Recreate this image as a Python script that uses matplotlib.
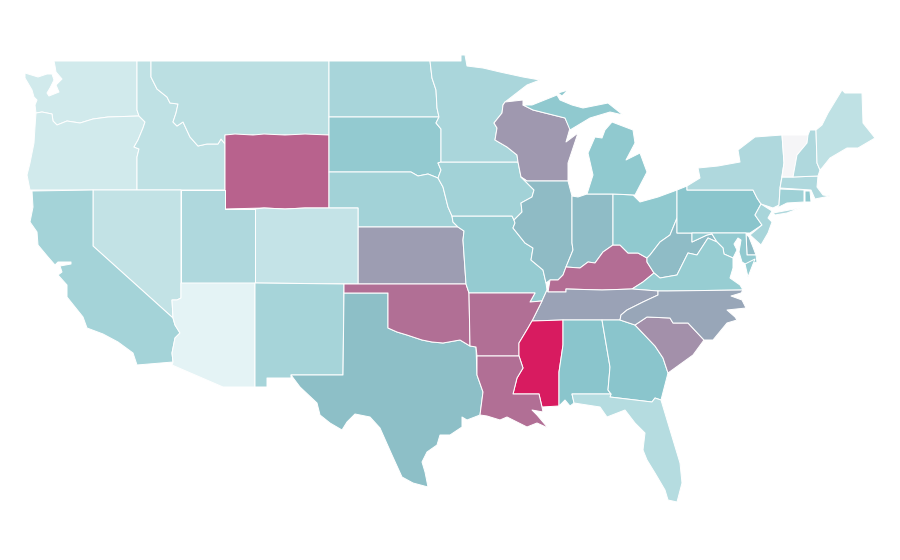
import matplotlib
matplotlib.use("Agg")
import matplotlib.pyplot as plt
from matplotlib.colors import LinearSegmentedColormap, Normalize

# state values (0-100)
states = ["WA", "OR", "ID", "MT", "WY", "ND", "SD", "NE", "KS", "CO", "UT", "NV", "CA", "AZ", "NM",
          "TX", "OK", "MO", "IA", "MN", "WI", "IL", "IN", "KY", "OH", "MI", "MIU", "ISLE", "WV", "PA", "NY",
          "LI", "NJ", "CT", "RI", "MA", "VT", "NH", "ME", "DE", "MD", "VA", "VAE", "TN", "AR", "MS",
          "LA", "AL", "GA", "SC", "NC", "FL"]
values = [17, 17, 25, 27, 79, 36, 46, 39, 62, 23, 33, 24, 38, 8, 37,
          52, 75, 45, 39, 35, 63.5, 53.5, 53, 76, 47, 47, 47, 47, 53, 50, 33,
          33, 36, 40, 47, 33, 0, 33, 25, 53, 46, 44, 44, 60.5, 75, 100,
          75, 50, 50, 66, 59, 30]

# outlines in picture pixels, no geo library available here
outlines = {
    "WA": [(54, 61), (137, 61), (137, 110), (139, 116), (108, 117), (93, 119), (80, 123), (67, 121), (57, 125),
           (53, 121), (52, 114), (42, 112), (36, 113), (35, 105), (37, 100), (34, 97), (32, 90), (25, 78), (25, 73),
           (38, 77), (47, 74), (52, 74), (54, 80), (50, 88), (47, 93), (49, 96), (59, 92), (56, 85), (62, 79), (56, 72),
           (55, 66)],
    "OR": [(36, 113), (42, 112), (52, 114), (53, 121), (57, 125), (67, 121), (80, 123), (93, 119), (108, 117),
           (139, 116), (145, 122), (143, 128), (138, 140), (134, 147), (139, 149), (137, 157), (137, 190), (30, 190),
           (27, 175), (30, 163), (34, 143), (35, 127)],
    "ID": [(137, 61), (151, 61), (151, 77), (157, 89), (167, 97), (170, 103), (178, 104), (176, 113), (173, 122),
           (177, 126), (183, 122), (190, 137), (198, 146), (207, 144), (218, 144), (221, 139), (225, 144), (225, 190),
           (137, 190), (137, 157), (139, 149), (134, 147), (138, 140), (143, 128), (145, 122), (139, 116), (137, 110)],
    "MT": [(151, 61), (329, 61), (329, 135), (225, 135), (225, 144), (221, 139), (218, 144), (207, 144), (198, 146),
           (190, 137), (183, 122), (177, 126), (173, 122), (176, 113), (178, 104), (170, 103), (167, 97), (157, 89),
           (151, 77)],
    "WY": [(225, 135), (235, 134), (253, 135), (264, 134), (285, 135), (305, 134), (329, 135), (329, 208), (305, 208),
           (285, 209), (264, 208), (225, 209)],
    "ND": [(329, 61), (430, 61), (432, 78), (436, 90), (437, 108), (439, 117), (329, 117)],
    "SD": [(329, 117), (439, 117), (436, 123), (441, 129), (441, 162), (438, 163), (441, 170), (438, 178), (428, 174),
           (418, 176), (411, 172), (329, 172)],
    "NE": [(329, 172), (411, 172), (418, 176), (428, 174), (438, 178), (443, 187), (448, 207), (452, 216), (453, 222),
           (458, 227), (358, 227), (358, 208), (329, 208)],
    "KS": [(358, 227), (458, 227), (464, 231), (463, 240), (466, 284), (358, 284)],
    "CO": [(255, 209), (264, 208), (285, 209), (305, 208), (358, 208), (358, 284), (255, 283)],
    "UT": [(181, 190), (225, 190), (225, 209), (255, 209), (255, 283), (181, 283)],
    "NV": [(93, 190), (181, 190), (181, 298), (177, 300), (172, 300), (173, 318), (93, 246)],
    "CA": [(32, 191), (93, 190), (93, 246), (173, 318), (175, 325), (180, 333), (175, 338), (172, 353), (173, 362),
           (137, 365), (133, 353), (118, 342), (103, 334), (87, 328), (83, 317), (67, 297), (67, 285), (58, 275),
           (62, 272), (60, 266), (71, 264), (71, 262), (58, 262), (55, 265), (48, 257), (38, 245), (37, 232), (30, 222),
           (33, 207)],
    "AZ": [(181, 283), (255, 283), (255, 387), (223, 387), (172, 365), (173, 362), (172, 353), (175, 338), (180, 333),
           (175, 325), (173, 318), (172, 300), (177, 300), (181, 298)],
    "NM": [(255, 283), (344, 284), (343, 375), (291, 375), (291, 378), (267, 378), (267, 387), (255, 387)],
    "TX": [(344, 293), (388, 293), (388, 328), (397, 332), (407, 335), (422, 340), (432, 342), (443, 343), (460, 340),
           (470, 346), (476, 347), (477, 375), (483, 392), (480, 415), (467, 420), (462, 417), (462, 427), (450, 435),
           (440, 435), (437, 445), (427, 452), (422, 462), (425, 472), (428, 487), (413, 483), (402, 477), (392, 455),
           (380, 428), (370, 417), (355, 414), (347, 422), (342, 430), (330, 423), (320, 415), (317, 403), (300, 387),
           (291, 375), (343, 375)],
    "OK": [(344, 284), (466, 284), (469, 293), (470, 346), (460, 340), (443, 343), (432, 342), (422, 340), (407, 335),
           (397, 332), (388, 328), (388, 293), (344, 293)],
    "MO": [(452, 216), (512, 216), (514, 220), (515, 223), (513, 228), (525, 243), (533, 248), (531, 260), (543, 270),
           (546, 283), (547, 290), (542, 301), (530, 302), (535, 293), (469, 293), (466, 284), (463, 240), (464, 231),
           (458, 227), (453, 222)],
    "IA": [(441, 162), (518, 162), (521, 177), (534, 190), (532, 197), (521, 203), (522, 212), (514, 220), (512, 216),
           (452, 216), (448, 207), (443, 187), (438, 178), (441, 170), (438, 163)],
    "MN": [(430, 61), (461, 61), (461, 55), (465, 55), (467, 66), (483, 68), (500, 72), (523, 77), (540, 80), (527, 85),
           (505, 102), (503, 105), (502, 113), (494, 123), (497, 128), (495, 140), (507, 147), (517, 155), (518, 162),
           (441, 162), (441, 129), (436, 123), (439, 117), (437, 108), (436, 90), (432, 78)],
    "WI": [(505, 102), (523, 100), (523, 105), (533, 110), (565, 118), (570, 128), (566, 142), (578, 133), (568, 163),
           (568, 181), (527, 181), (521, 177), (518, 162), (517, 155), (507, 147), (495, 140), (497, 128), (494, 123),
           (502, 113), (503, 105)],
    "IL": [(527, 181), (568, 181), (572, 196), (572, 227), (572, 243), (573, 250), (566, 267), (563, 275), (558, 280),
           (550, 280), (546, 283), (543, 270), (531, 260), (533, 248), (525, 243), (513, 228), (515, 223), (514, 220),
           (522, 212), (521, 203), (532, 197), (534, 190), (521, 177)],
    "IN": [(572, 196), (578, 197), (587, 194), (613, 194), (613, 245), (603, 252), (595, 263), (588, 262), (580, 268),
           (566, 267), (573, 250), (572, 243), (572, 227)],
    "KY": [(613, 245), (620, 245), (628, 253), (638, 253), (647, 258), (647, 262), (654, 273), (643, 282), (632, 289),
           (602, 290), (566, 289), (566, 292), (548, 292), (550, 280), (558, 280), (563, 275), (566, 267), (580, 268),
           (588, 262), (595, 263), (603, 252)],
    "OH": [(613, 194), (633, 195), (640, 202), (658, 197), (677, 190), (677, 218), (670, 235), (660, 242), (650, 255),
           (647, 258), (638, 253), (628, 253), (620, 245), (613, 245)],
    "MI": [(587, 194), (593, 175), (588, 153), (595, 137), (602, 138), (605, 130), (612, 122), (633, 130), (635, 143),
           (626, 160), (640, 153), (647, 172), (635, 195), (613, 194)],
    "MIU": [(523, 105), (532, 105), (557, 95), (560, 100), (572, 105), (583, 108), (608, 103), (623, 115), (610, 112),
            (590, 118), (570, 130), (565, 118), (533, 110)],
    "ISLE": [(558, 93), (568, 90), (562, 96)],
    "WV": [(677, 218), (677, 233), (692, 233), (692, 242), (707, 235), (712, 234), (717, 242), (708, 238), (697, 255),
           (688, 253), (677, 275), (660, 278), (654, 273), (647, 262), (647, 258), (650, 255), (660, 242), (670, 235)],
    "PA": [(677, 190), (687, 186), (687, 190), (753, 190), (757, 198), (761, 204), (755, 215), (762, 225), (750, 233),
           (677, 233)],
    "NY": [(687, 186), (700, 178), (698, 168), (718, 166), (740, 162), (738, 150), (755, 137), (782, 135), (784, 163),
           (780, 188), (779, 205), (773, 208), (761, 204), (757, 198), (753, 190), (687, 190)],
    "LI": [(773, 213), (800, 208), (787, 213), (775, 215)],
    "NJ": [(761, 204), (772, 211), (768, 218), (772, 222), (768, 233), (761, 245), (750, 235), (762, 225), (755, 215)],
    "CT": [(780, 189), (804, 190), (804, 202), (787, 203), (777, 208), (779, 205)],
    "RI": [(805, 191), (810, 191), (811, 202), (805, 202)],
    "MA": [(782, 177), (793, 177), (818, 176), (817, 187), (823, 195), (830, 196), (815, 199), (811, 190), (780, 188)],
    "VT": [(782, 135), (808, 135), (807, 143), (797, 155), (793, 177), (782, 177), (784, 163)],
    "NH": [(810, 130), (816, 130), (817, 163), (820, 170), (818, 176), (793, 177), (797, 155), (807, 143), (808, 135)],
    "ME": [(816, 130), (822, 125), (828, 113), (842, 90), (845, 93), (862, 93), (863, 123), (875, 138), (858, 148),
           (847, 148), (830, 158), (822, 168), (820, 170), (817, 163)],
    "DE": [(746, 234), (749, 237), (753, 247), (756, 255), (747, 255)],
    "MD": [(692, 233), (746, 233), (747, 255), (756, 255), (757, 262), (747, 265), (742, 262), (739, 252), (741, 240),
           (738, 238), (734, 244), (737, 250), (733, 258), (724, 254), (723, 248), (717, 242), (712, 234), (707, 235),
           (692, 242)],
    "VA": [(654, 273), (660, 278), (677, 275), (688, 253), (697, 255), (708, 238), (717, 242), (723, 248), (724, 254),
           (733, 258), (733, 268), (730, 278), (740, 285), (743, 290), (667, 291), (658, 291), (632, 289), (643, 282)],
    "VAE": [(745, 264), (755, 259), (748, 277)],
    "TN": [(548, 292), (566, 292), (566, 289), (602, 290), (632, 289), (658, 291), (658, 295), (643, 302), (627, 310),
           (621, 315), (620, 320), (602, 320), (563, 320), (532, 321), (542, 301), (547, 290)],
    "AR": [(469, 293), (535, 293), (530, 302), (542, 301), (532, 321), (528, 328), (519, 343), (519, 356), (477, 356),
           (476, 347), (470, 346)],
    "MS": [(532, 321), (563, 320), (563, 345), (559, 372), (559, 406), (542, 407), (539, 394), (513, 394), (517, 378),
           (523, 368), (519, 356), (519, 343), (528, 328)],
    "LA": [(477, 356), (519, 356), (523, 368), (517, 378), (513, 394), (539, 394), (542, 407), (543, 412), (532, 410),
           (537, 415), (548, 428), (537, 423), (527, 427), (507, 417), (500, 420), (487, 416), (480, 415), (483, 392),
           (477, 375)],
    "AL": [(563, 320), (602, 320), (610, 367), (608, 390), (611, 394), (572, 394), (574, 403), (570, 406), (565, 400),
           (559, 406), (559, 372), (563, 345)],
    "GA": [(602, 320), (620, 320), (635, 325), (655, 346), (663, 358), (668, 373), (661, 400), (655, 398), (652, 402),
           (610, 397), (611, 394), (608, 390), (610, 367)],
    "SC": [(635, 325), (647, 317), (670, 318), (673, 323), (688, 323), (704, 340), (693, 355), (668, 373), (663, 358),
           (655, 346)],
    "NC": [(658, 295), (658, 291), (667, 291), (743, 290), (741, 293), (731, 296), (742, 300), (746, 308), (727, 310),
           (735, 317), (737, 320), (727, 323), (713, 340), (704, 340), (688, 323), (673, 323), (670, 318), (647, 317),
           (635, 325), (620, 320), (621, 315), (627, 310), (643, 302)],
    "FL": [(572, 394), (611, 394), (610, 397), (652, 402), (655, 398), (661, 400), (667, 420), (680, 463), (682, 483),
           (677, 502), (668, 500), (665, 490), (655, 473), (647, 460), (643, 450), (645, 433), (635, 423), (625, 410),
           (607, 417), (600, 407), (574, 403)],
}

# colour scale: near white, pale blue, teal, then up to pink
cmap = LinearSegmentedColormap.from_list(
    "map", [(0, "#f5f5f7"), (0.08, "#e4f3f5"), (0.5, "#8ac6cc"), (1, "#d81b60")])
norm = Normalize(0, 100)

fig = plt.figure(figsize=(9, 5.6), dpi=100)
ax = fig.add_axes([0, 0, 1, 1])

for name, val in zip(states, values):
    xs, ys = zip(*outlines[name])
    ax.fill(xs, ys, facecolor=cmap(norm(val)), edgecolor="white", linewidth=0.72, joinstyle="round")

ax.set_xlim(0, 900)
ax.set_ylim(560, 0)
ax.axis("off")

fig.savefig("out.png", dpi=100)
